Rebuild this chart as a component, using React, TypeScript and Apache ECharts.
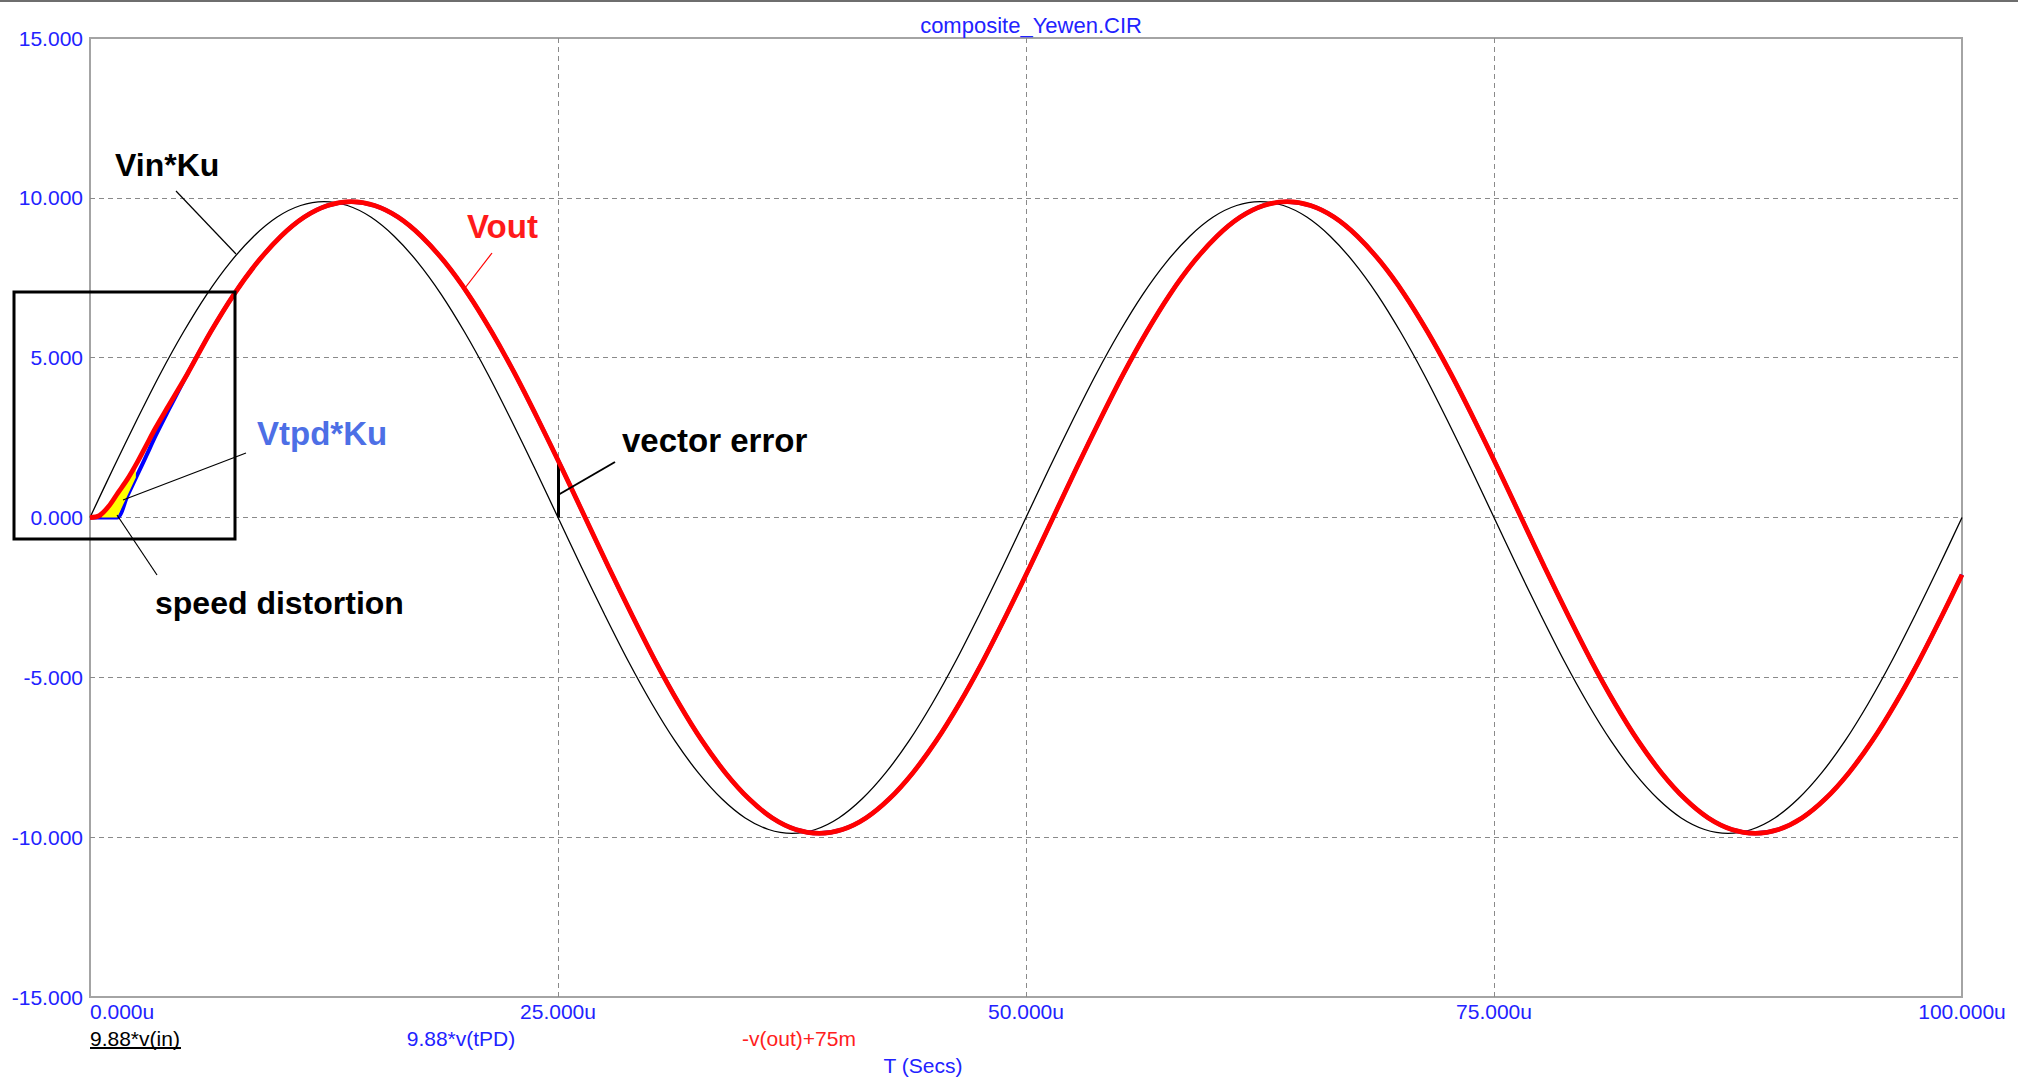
import React, { useEffect, useRef } from "react";
import * as echarts from "echarts";

// ---- data ----
// time axis in microseconds
const X_TICKS = [0, 25, 50, 75, 100];
const Y_TICKS = [-15, -10, -5, 0, 5, 10, 15];

// Vin*Ku = 9.88*v(in)
const VIN_T = [
  0, 1.25, 2.5, 3.75, 5, 6.25, 7.5, 8.75, 10, 11.25, 12.5, 13.75, 15, 16.25, 17.5, 18.75, 20, 21.25, 22.5, 23.75,
  25, 26.25, 27.5, 28.75, 30, 31.25, 32.5, 33.75, 35, 36.25, 37.5, 38.75, 40, 41.25, 42.5, 43.75, 45, 46.25, 47.5, 48.75,
  50, 51.25, 52.5, 53.75, 55, 56.25, 57.5, 58.75, 60, 61.25, 62.5, 63.75, 65, 66.25, 67.5, 68.75, 70, 71.25, 72.5, 73.75,
  75, 76.25, 77.5, 78.75, 80, 81.25, 82.5, 83.75, 85, 86.25, 87.5, 88.75, 90, 91.25, 92.5, 93.75, 95, 96.25, 97.5, 98.75,
  100,
];
const VIN_V = [
  0, 1.55, 3.05, 4.49, 5.81, 6.99, 7.99, 8.8, 9.4, 9.76, 9.88, 9.76, 9.4, 8.8, 7.99, 6.99, 5.81, 4.49, 3.05, 1.55,
  0, -1.55, -3.05, -4.49, -5.81, -6.99, -7.99, -8.8, -9.4, -9.76, -9.88, -9.76, -9.4, -8.8, -7.99, -6.99, -5.81, -4.49, -3.05, -1.55,
  0, 1.55, 3.05, 4.49, 5.81, 6.99, 7.99, 8.8, 9.4, 9.76, 9.88, 9.76, 9.4, 8.8, 7.99, 6.99, 5.81, 4.49, 3.05, 1.55,
  0, -1.55, -3.05, -4.49, -5.81, -6.99, -7.99, -8.8, -9.4, -9.76, -9.88, -9.76, -9.4, -8.8, -7.99, -6.99, -5.81, -4.49, -3.05, -1.55,
  0,
];

// steady-state part shared by Vout and Vtpd (delayed sine)
const STEADY_T = [
  5.2, 6.45, 7.7, 8.95, 10.2, 11.45, 12.7, 13.95,
  15.2, 16.45, 17.7, 18.95, 20.2, 21.45, 22.7, 23.95, 25.2, 26.45,
  27.7, 28.95, 30.2, 31.45, 32.7, 33.95, 35.2, 36.45, 37.7, 38.95,
  40.2, 41.45, 42.7, 43.95, 45.2, 46.45, 47.7, 48.95, 50.2, 51.45,
  52.7, 53.95, 55.2, 56.45, 57.7, 58.95, 60.2, 61.45, 62.7, 63.95,
  65.2, 66.45, 67.7, 68.95, 70.2, 71.45, 72.7, 73.95, 75.2, 76.45,
  77.7, 78.95, 80.2, 81.45, 82.7, 83.95, 85.2, 86.45, 87.7, 88.95,
  90.2, 91.45, 92.7, 93.95, 95.2, 96.45, 97.7, 98.95,
  100,
];
const STEADY_V = [
  4.49, 5.81, 6.99, 7.99, 8.8, 9.4, 9.76, 9.88,
  9.76, 9.4, 8.8, 7.99, 6.99, 5.81, 4.49, 3.05, 1.55, 0,
  -1.55, -3.05, -4.49, -5.81, -6.99, -7.99, -8.8, -9.4, -9.76, -9.88,
  -9.76, -9.4, -8.8, -7.99, -6.99, -5.81, -4.49, -3.05, -1.55, 0,
  1.55, 3.05, 4.49, 5.81, 6.99, 7.99, 8.8, 9.4, 9.76, 9.88,
  9.76, 9.4, 8.8, 7.99, 6.99, 5.81, 4.49, 3.05, 1.55, 0,
  -1.55, -3.05, -4.49, -5.81, -6.99, -7.99, -8.8, -9.4, -9.76, -9.88,
  -9.76, -9.4, -8.8, -7.99, -6.99, -5.81, -4.49, -3.05,
  -1.79,
];

// Vout = -v(out)+75m start-up
const VOUT_START_T = [0, 0.5, 1.0, 1.5, 2.0, 2.5, 3.0, 3.5, 4.1];
const VOUT_START_V = [0, 0.06, 0.35, 0.78, 1.2, 1.7, 2.25, 2.8, 3.4];

// Vtpd*Ku = 9.88*v(tPD) start-up
const VTPD_START_T = [0, 0.9, 1.45, 2.0, 2.5, 3.0, 3.5, 4.1];
const VTPD_START_V = [0, 0, 0, 0.68, 1.3, 1.92, 2.55, 3.25];

// speed distortion area (between Vout and Vtpd)
const DIST_T = [0.6, 1.45, 2.45, 2.45, 2.0, 1.5, 1.0];
const DIST_V = [0, 0, 1.25, 1.6, 1.2, 0.78, 0.35];

// vector error marker at t = 25u
const VERR_T = 25;
const VERR_FROM = 0;
const VERR_TO = 1.8;

const FONT = "'Liberation Sans', Arial, sans-serif";
const AXIS_BLUE = "#2222ff";

const zip = (t: number[], v: number[]) => t.map((x, i) => [x, v[i]]);

export default function App() {
  const ref = useRef<HTMLDivElement>(null);

  useEffect(() => {
    if (!ref.current) return;
    const chart = echarts.init(ref.current, undefined, { renderer: "svg" });

    const vinData = zip(VIN_T, VIN_V);
    const voutData = zip(VOUT_START_T, VOUT_START_V).concat(zip(STEADY_T, STEADY_V));
    const vtpdData = zip(VTPD_START_T, VTPD_START_V).concat(zip(STEADY_T, STEADY_V));
    const distData = zip(DIST_T, DIST_V);

    const txt = (text: string, x: number, y: number, fill: string, size: number, bold: boolean, align = "left") => ({
      type: "text",
      z: 100,
      style: {
        text,
        x,
        y,
        fill,
        fontSize: size,
        fontWeight: bold ? "bold" : "normal",
        fontFamily: FONT,
        align,
        verticalAlign: "middle",
      },
    });
    const ln = (x1: number, y1: number, x2: number, y2: number, stroke: string, w: number) => ({
      type: "line",
      z: 100,
      shape: { x1, y1, x2, y2 },
      style: { stroke, lineWidth: w },
    });

    chart.setOption({
      animation: false,
      backgroundColor: "#ffffff",
      title: {
        text: "composite_Yewen.CIR",
        left: 1026,
        top: 9,
        textAlign: "center",
        textStyle: { color: AXIS_BLUE, fontSize: 22, fontWeight: "normal", fontFamily: FONT },
      },
      grid: {
        left: 90,
        right: 70,
        top: 38,
        bottom: 84,
        containLabel: false,
        show: true,
        borderColor: "#a4a4a4",
        borderWidth: 2,
        backgroundColor: "transparent",
      },
      xAxis: {
        type: "value",
        min: X_TICKS[0],
        max: X_TICKS[X_TICKS.length - 1],
        interval: 25,
        axisLine: { show: false },
        axisTick: { show: false },
        axisLabel: {
          color: AXIS_BLUE,
          fontSize: 21,
          fontFamily: FONT,
          margin: 4,
          alignMinLabel: "left",
          formatter: (v: number) => v.toFixed(3) + "u",
        },
        splitLine: {
          show: true,
          showMinLine: false,
          showMaxLine: false,
          lineStyle: { color: "#8a8a8a", type: [5, 4], width: 1 },
        },
      },
      yAxis: {
        type: "value",
        min: Y_TICKS[0],
        max: Y_TICKS[Y_TICKS.length - 1],
        interval: 5,
        axisLine: { show: false },
        axisTick: { show: false },
        axisLabel: {
          color: AXIS_BLUE,
          fontSize: 21,
          fontFamily: FONT,
          margin: 7,
          formatter: (v: number) => v.toFixed(3),
        },
        splitLine: {
          show: true,
          showMinLine: false,
          showMaxLine: false,
          lineStyle: { color: "#8a8a8a", type: [5, 4], width: 1 },
        },
      },
      series: [
        {
          name: "9.88*v(in)",
          type: "line",
          data: vinData,
          smooth: 0.3,
          symbol: "none",
          z: 2,
          lineStyle: { color: "#000000", width: 1.3 },
        },
        {
          name: "9.88*v(tPD)",
          type: "line",
          data: vtpdData,
          smooth: 0.3,
          symbol: "none",
          z: 3,
          lineStyle: { color: "#0000ff", width: 4 },
        },
        {
          name: "distortion",
          type: "custom",
          data: distData,
          z: 4,
          renderItem: (params: any, api: any) => {
            if (params.dataIndex !== 0) return null;
            const pts = distData.map((p) => api.coord(p));
            return {
              type: "polygon",
              shape: { points: pts },
              style: { fill: "#ffff00", stroke: "none" },
            };
          },
        },
        {
          name: "-v(out)+75m",
          type: "line",
          data: voutData,
          smooth: 0.3,
          symbol: "none",
          z: 5,
          lineStyle: { color: "#ff0000", width: 4.8 },
          markLine: {
            silent: true,
            symbol: "none",
            label: { show: false },
            lineStyle: { color: "#000000", width: 3, type: "solid" },
            data: [[{ coord: [VERR_T, VERR_FROM] }, { coord: [VERR_T, VERR_TO] }]],
          },
        },
      ],
      graphic: [
        // top border of the window
        ln(0, 1, 2018, 1, "#6e6e6e", 2),
        // annotation box
        {
          type: "rect",
          z: 100,
          shape: { x: 14, y: 292, width: 221, height: 247 },
          style: { stroke: "#000000", fill: "none", lineWidth: 3 },
        },
        txt("Vin*Ku", 115, 165, "#000000", 32, true),
        ln(176, 191, 236, 254, "#000000", 1.2),
        txt("Vout", 467, 226, "#ff1a1a", 33, true),
        ln(492, 253, 465, 288, "#ff0000", 1.2),
        txt("Vtpd*Ku", 257, 433, "#4d6fe6", 33, true),
        ln(246, 453, 123, 500, "#000000", 1.2),
        txt("speed distortion", 155, 603, "#000000", 32, true),
        ln(157, 575, 117, 515, "#000000", 1.2),
        txt("vector error", 622, 440, "#000000", 33, true),
        ln(615, 462, 558, 495, "#000000", 2),
        // bottom trace legend
        txt("9.88*v(in)", 90, 1038, "#000000", 21, false),
        ln(90, 1048, 181, 1048, "#000000", 2),
        txt("9.88*v(tPD)", 461, 1038, AXIS_BLUE, 21, false, "center"),
        txt("-v(out)+75m", 799, 1038, "#ff2020", 21, false, "center"),
        txt("T (Secs)", 923, 1065, AXIS_BLUE, 21, false, "center"),
      ],
    });

    return () => chart.dispose();
  }, []);

  return (
    <div
      ref={ref}
      style={{ position: "fixed", left: 0, top: 0, width: 2032, height: 1081, background: "#fff" }}
    />
  );
}
